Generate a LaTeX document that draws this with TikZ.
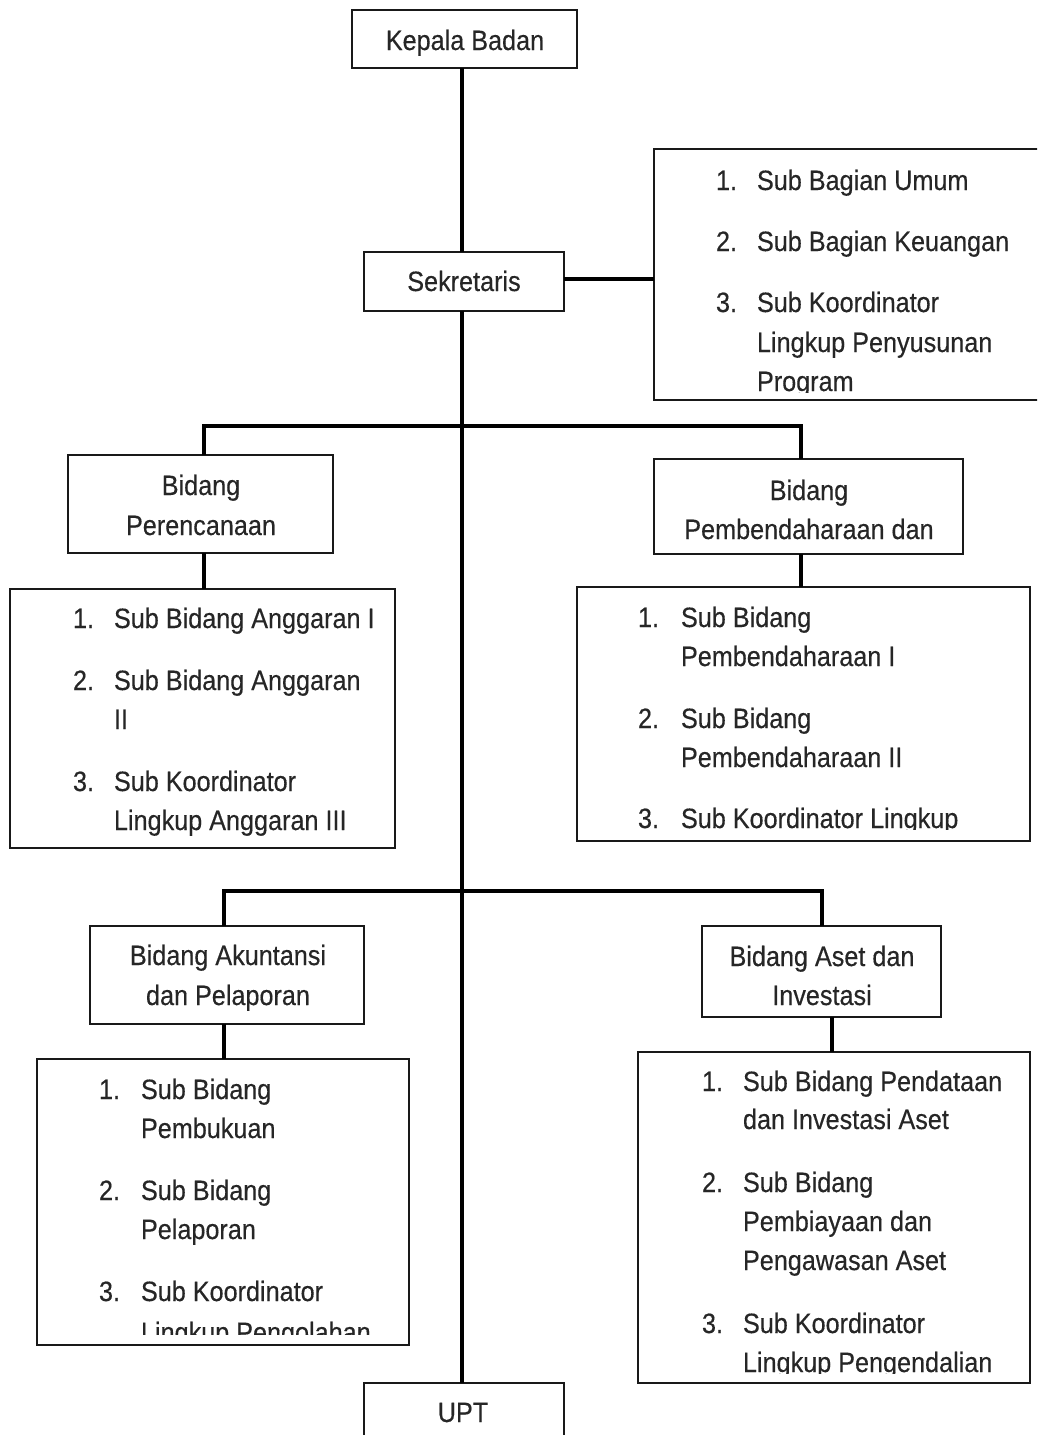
\documentclass[tikz,border=0pt]{standalone}
\usepackage{fontspec}
\setmainfont{Liberation Sans}[FakeStretch=0.9,FakeBold=0.35]
\begin{document}
\begin{tikzpicture}[x=1pt,y=-1pt,
  box/.style={draw=black!90, line width=2.6pt, inner sep=0pt, outer sep=0pt, rectangle, anchor=north west},
  conn/.style={draw=black, line width=3.2pt, line join=miter},
  lbl/.style={inner sep=0pt, outer sep=0pt, font=\fontsize{28}{39.5}\selectfont, text=black!85},
  ctr/.style={lbl, anchor=base},
  lft/.style={lbl, anchor=base west}]
\clip (0,0) rectangle (1037,1435);
\fill[white] (0,0) rectangle (1037,1435);

% boxes
\node[box, minimum width=225pt, minimum height=58pt] (kb) at (352,10) {};
\node[box, minimum width=200pt, minimum height=59pt] (sek) at (364,252) {};
\node[box, minimum width=400pt, minimum height=251pt] (subA) at (654,149) {};
\node[box, minimum width=265pt, minimum height=98pt] (bper) at (68,455) {};
\node[box, minimum width=309pt, minimum height=95pt] (bpem) at (654,459) {};
\node[box, minimum width=385pt, minimum height=259pt] (sub1) at (10,589) {};
\node[box, minimum width=453pt, minimum height=254pt] (sub2) at (577,587) {};
\node[box, minimum width=274pt, minimum height=98pt] (bak) at (90,926) {};
\node[box, minimum width=239pt, minimum height=91pt] (bas) at (702,926) {};
\node[box, minimum width=372pt, minimum height=286pt] (sub3) at (37,1059) {};
\node[box, minimum width=392pt, minimum height=331pt] (sub4) at (638,1052) {};
\node[box, minimum width=200pt, minimum height=80pt] (upt) at (364,1383) {};

% connectors
\coordinate (mx) at (462,0);
\coordinate (h1) at (600,279);
\coordinate (j1l) at (204,426);
\coordinate (j1r) at (801,426);
\coordinate (j2l) at (224,891);
\coordinate (j2r) at (822,891);
\coordinate (j3) at (832,1030);
\draw[conn] (kb.south -| mx) -- (sek.north -| mx);
\draw[conn] (sek.south -| mx) -- (upt.north -| mx);
\draw[conn] (sek.east |- h1) -- (subA.west |- h1);
\draw[conn] (bper.north -| j1l) -- (j1l) -- (j1r) -- (bpem.north -| j1r);
\draw[conn] (bper.south -| j1l) -- (sub1.north -| j1l);
\draw[conn] (bpem.south -| j1r) -- (sub2.north -| j1r);
\draw[conn] (bak.north -| j2l) -- (j2l) -- (j2r) -- (bas.north -| j2r);
\draw[conn] (bak.south -| j2l) -- (sub3.north -| j2l);
\draw[conn] (bas.south -| j3) -- (sub4.north -| j3);

% centered titles
\node[ctr] (tkb) at (465,50) {Kepala Badan};
\node[ctr] (tsek) at (464,291) {Sekretaris};
\node[ctr] (tbper1) at (201,495) {Bidang};
\node[ctr] (tbper2) at (201,535) {Perencanaan};
\node[ctr] (tbpem1) at (809,500) {Bidang};
\node[ctr] (tbpem2) at (809,539) {Pembendaharaan dan};
\node[ctr] (tbak1) at (228,965) {Bidang Akuntansi};
\node[ctr] (tbak2) at (228,1005) {dan Pelaporan};
\node[ctr] (tbas1) at (822,966) {Bidang Aset dan};
\node[ctr] (tbas2) at (822,1005) {Investasi};
\node[ctr] (tupt) at (463,1422) {UPT};

% Sekretaris sub list
\begin{scope}
\clip (654,149) rectangle (1037,392);
\node[lft] (an1) at (716,190) {1.};
\node[lft] (a1) at (757,190) {Sub Bagian Umum};
\node[lft] (an2) at (716,251) {2.};
\node[lft] (a2) at (757,251) {Sub Bagian Keuangan};
\node[lft] (an3) at (716,312) {3.};
\node[lft] (a3) at (757,312) {Sub Koordinator};
\node[lft] (a3b) at (757,352) {Lingkup Penyusunan};
\node[lft] (a3c) at (757,391) {Program};
\end{scope}

% Perencanaan sub list
\node[lft] (bn1) at (73,628) {1.};
\node[lft] (b1) at (114,628) {Sub Bidang Anggaran I};
\node[lft] (bn2) at (73,690) {2.};
\node[lft] (b2) at (114,690) {Sub Bidang Anggaran};
\node[lft] (b2b) at (114,729) {II};
\node[lft] (bn3) at (73,791) {3.};
\node[lft] (b3) at (114,791) {Sub Koordinator};
\node[lft] (b3b) at (114,830) {Lingkup Anggaran III};

% Pembendaharaan sub list
\begin{scope}
\clip (577,587) rectangle (1030,829);
\node[lft] (cn1) at (638,627) {1.};
\node[lft] (c1) at (681,627) {Sub Bidang};
\node[lft] (c1b) at (681,666) {Pembendaharaan I};
\node[lft] (cn2) at (638,728) {2.};
\node[lft] (c2) at (681,728) {Sub Bidang};
\node[lft] (c2b) at (681,767) {Pembendaharaan II};
\node[lft] (cn3) at (638,828) {3.};
\node[lft] (c3) at (681,828) {Sub Koordinator Lingkup};
\end{scope}

% Akuntansi sub list
\begin{scope}
\clip (37,1059) rectangle (409,1334);
\node[lft] (dn1) at (99,1099) {1.};
\node[lft] (d1) at (141,1099) {Sub Bidang};
\node[lft] (d1b) at (141,1138) {Pembukuan};
\node[lft] (dn2) at (99,1200) {2.};
\node[lft] (d2) at (141,1200) {Sub Bidang};
\node[lft] (d2b) at (141,1239) {Pelaporan};
\node[lft] (dn3) at (99,1301) {3.};
\node[lft] (d3) at (141,1301) {Sub Koordinator};
\node[lft] (d3b) at (141,1342) {Lingkup Pengolahan};
\end{scope}

% Aset sub list
\begin{scope}
\clip (638,1052) rectangle (1030,1373);
\node[lft] (en1) at (702,1091) {1.};
\node[lft] (e1) at (743,1091) {Sub Bidang Pendataan};
\node[lft] (e1b) at (743,1129) {dan Investasi Aset};
\node[lft] (en2) at (702,1192) {2.};
\node[lft] (e2) at (743,1192) {Sub Bidang};
\node[lft] (e2b) at (743,1231) {Pembiayaan dan};
\node[lft] (e2c) at (743,1270) {Pengawasan Aset};
\node[lft] (en3) at (702,1333) {3.};
\node[lft] (e3) at (743,1333) {Sub Koordinator};
\node[lft] (e3b) at (743,1372) {Lingkup Pengendalian};
\end{scope}
\end{tikzpicture}
\end{document}
